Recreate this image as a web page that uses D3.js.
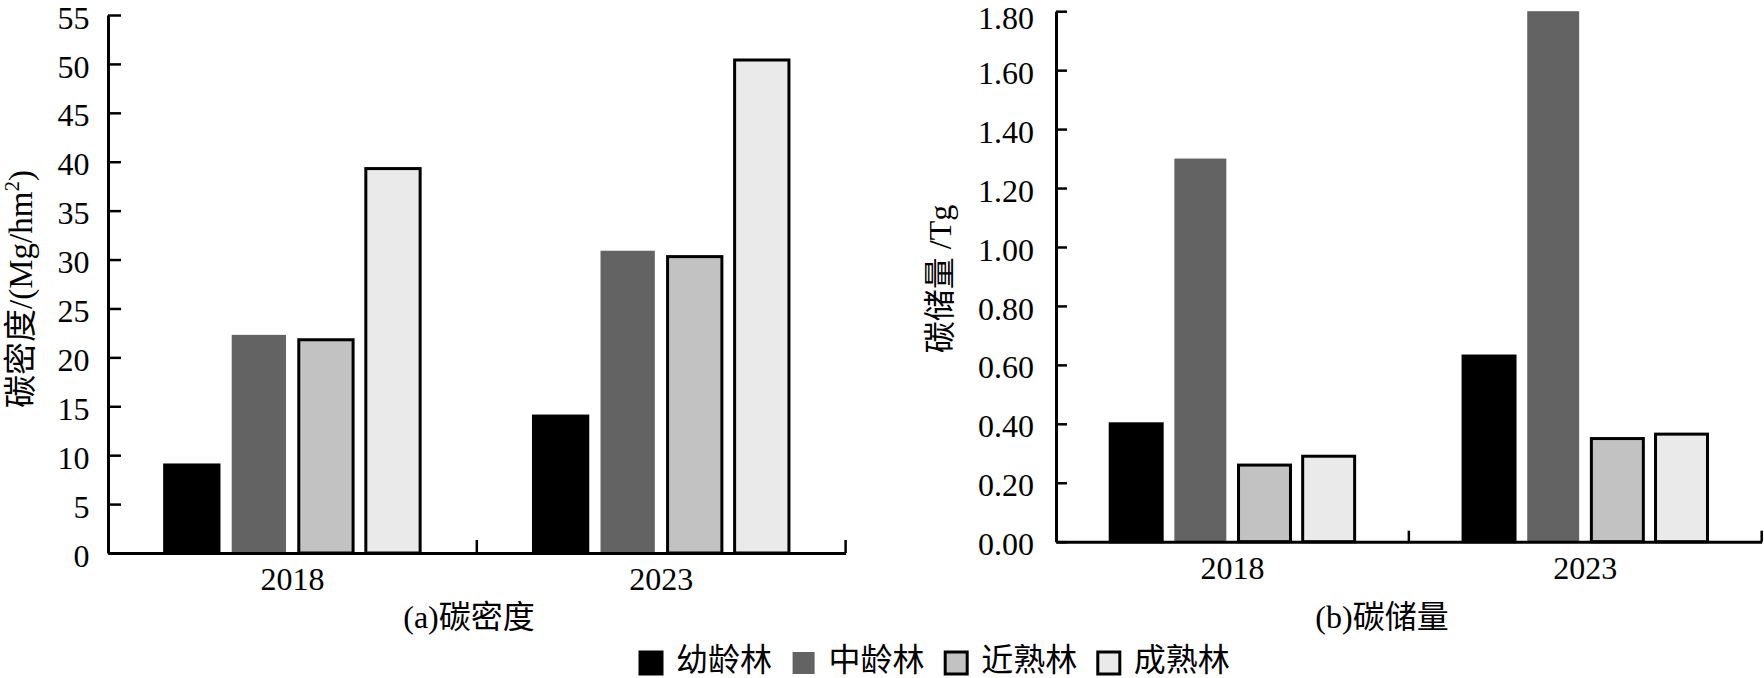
<!DOCTYPE html>
<html>
<head>
<meta charset="utf-8">
<script src="https://cdn.jsdelivr.net/npm/d3@7"></script>
<style>
  body { margin: 0; background: #fff; }
  text { font-family: "Times New Roman", "Liberation Serif", "Noto Sans CJK SC", serif; fill: #000; }
</style>
</head>
<body>
<svg id="chart"></svg>
<script>
const svgWidth = 1764;
const svgHeight = 678;

// data
const years = ['2018', '2023'];
const forestTypes = ['幼龄林', '中龄林', '近熟林', '成熟林'];
const densityValues = [
  [9.0, 22.3, 21.8, 39.3],   // 2018
  [14.0, 30.9, 30.3, 50.4]   // 2023
];
const storageValues = [
  [0.40, 1.30, 0.26, 0.29],  // 2018
  [0.63, 1.80, 0.35, 0.365]  // 2023
];
const densityTicks = [0, 5, 10, 15, 20, 25, 30, 35, 40, 45, 50, 55];
const storageTicks = [0, 0.2, 0.4, 0.6, 0.8, 1.0, 1.2, 1.4, 1.6, 1.8];

const fills = ['#000000', '#636363', '#c2c2c2', '#eaeaea'];
const strokes = ['#000000', 'none', '#000000', '#000000'];

const svg = d3.select('#chart')
    .attr('width', svgWidth)
    .attr('height', svgHeight);

function drawPanel(opt) {
  const g = svg.append('g');

  const yScale = d3.scaleLinear()
      .domain([0, opt.max])
      .range([opt.bottom, opt.top]);

  const x0 = d3.scaleBand()
      .domain(years)
      .range([opt.left, opt.right])
      .padding(0);

  const x1 = d3.scaleBand()
      .domain(forestTypes)
      .range([0, x0.bandwidth()])
      .paddingInner(0.19)
      .paddingOuter(0.845);

  // bars
  years.forEach((yr, i) => {
    g.selectAll('.bar' + i)
      .data(opt.values[i])
      .enter()
      .append('rect')
      .attr('x', (d, j) => x0(yr) + x1(forestTypes[j]))
      .attr('y', d => yScale(d))
      .attr('width', x1.bandwidth())
      .attr('height', d => opt.bottom - yScale(d))
      .attr('fill', (d, j) => fills[j])
      .attr('stroke', (d, j) => strokes[j])
      .attr('stroke-width', 3);
  });

  // y axis
  const yAxis = g.append('g')
      .attr('transform', `translate(${opt.left},0)`)
      .call(d3.axisLeft(yScale)
        .tickValues(opt.ticks)
        .tickFormat(opt.fmt)
        .tickSizeInner(-opt.tick)
        .tickSizeOuter(0)
        .tickPadding(opt.labelGap));
  yAxis.select('.domain').attr('stroke-width', 3);
  yAxis.selectAll('.tick line').attr('stroke-width', 2.5);
  yAxis.selectAll('.tick text')
      .attr('font-size', 32)
      .attr('dy', '0.41em')
      .attr('x', -opt.labelGap);
  // keep the top label inside the page
  yAxis.selectAll('.tick text')
      .filter(d => yScale(d) < 14)
      .attr('dy', '0.55em');

  // x axis
  const xAxis = g.append('g')
      .attr('transform', `translate(0,${opt.bottom})`)
      .call(d3.axisBottom(x0).tickSize(0).tickPadding(0));
  xAxis.select('.domain').attr('stroke-width', 3);
  xAxis.selectAll('.tick text')
      .attr('font-size', 32)
      .attr('dy', 0)
      .attr('y', 37);

  // category separators
  g.selectAll('.sep')
    .data(years)
    .enter()
    .append('line')
    .attr('x1', d => x0(d) + x0.bandwidth())
    .attr('x2', d => x0(d) + x0.bandwidth())
    .attr('y1', opt.bottom)
    .attr('y2', opt.bottom - opt.tick)
    .attr('stroke', '#000')
    .attr('stroke-width', 2.5);

  // y title
  g.append('text')
    .attr('transform', `translate(${opt.titleX},${opt.titleY}) rotate(-90)`)
    .attr('text-anchor', 'middle')
    .attr('font-size', opt.titleSize)
    .html(opt.yTitle);

  // panel caption
  g.append('text')
    .attr('x', opt.capX)
    .attr('y', 628)
    .attr('text-anchor', 'middle')
    .attr('font-size', 32)
    .text(opt.caption);
}

drawPanel({
  left: 108, right: 845.6, top: 15, bottom: 553,
  max: 55, ticks: densityTicks, fmt: d3.format('d'),
  values: densityValues, tick: 13, labelGap: 18.5,
  yTitle: '碳密度/(Mg/hm<tspan dy="-13" font-size="21">2</tspan><tspan dy="13">)</tspan>',
  titleX: 32, titleY: 289, titleSize: 33,
  caption: '(a)碳密度', capX: 469
});

drawPanel({
  left: 1056, right: 1761.7, top: 11.2, bottom: 541.7,
  max: 1.8, ticks: storageTicks, fmt: d3.format('.2f'),
  values: storageValues, tick: 11, labelGap: 22,
  yTitle: '碳储量 /Tg',
  titleX: 951, titleY: 279, titleSize: 32,
  caption: '(b)碳储量', capX: 1382
});

// legend
const legendStep = 152.6;
const legend = svg.selectAll('.legend')
    .data(forestTypes)
    .enter()
    .append('g')
    .attr('transform', (d, i) => `translate(${640 + i * legendStep},652)`);

legend.append('rect')
    .attr('width', 22)
    .attr('height', 22)
    .attr('fill', (d, i) => fills[i])
    .attr('stroke', (d, i) => strokes[i])
    .attr('stroke-width', 3);

legend.append('text')
    .attr('x', 36)
    .attr('y', 19)
    .attr('font-size', 32)
    .text(d => d);
</script>
</body>
</html>
